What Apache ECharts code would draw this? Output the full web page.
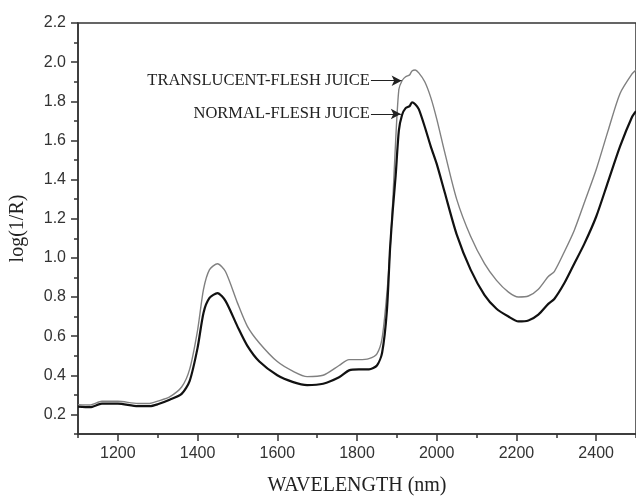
<!DOCTYPE html>
<html>
<head>
<meta charset="utf-8">
<script src="https://cdn.jsdelivr.net/npm/echarts@6/dist/echarts.min.js"></script>
<style>html,body{margin:0;padding:0;background:#fff}#c{width:636px;height:501px}</style>
</head>
<body>
<div id="c"></div>
<script>
const wavelengths = [1100,1130,1160,1200,1250,1280,1300,1330,1360,1380,1400,1415,1430,1450,1470,1500,1525,1555,1600,1640,1675,1715,1755,1780,1805,1830,1850,1863,1875,1883,1890,1897,1905,1913,1922,1932,1938,1946,1955,1970,1985,2000,2020,2050,2085,2120,2150,2180,2205,2230,2255,2280,2295,2320,2345,2370,2400,2430,2460,2490,2500];
const normalFlesh = [0.24,0.237,0.255,0.255,0.242,0.242,0.252,0.275,0.305,0.37,0.54,0.72,0.795,0.82,0.78,0.65,0.55,0.47,0.40,0.365,0.35,0.357,0.39,0.425,0.43,0.43,0.45,0.515,0.73,1.05,1.25,1.42,1.65,1.73,1.765,1.775,1.795,1.785,1.76,1.67,1.57,1.48,1.335,1.12,0.94,0.81,0.74,0.70,0.675,0.68,0.71,0.765,0.79,0.87,0.97,1.07,1.21,1.39,1.57,1.72,1.75];
const translucentFlesh = [0.25,0.248,0.267,0.267,0.256,0.256,0.268,0.29,0.34,0.43,0.63,0.84,0.94,0.97,0.93,0.77,0.65,0.565,0.47,0.42,0.393,0.40,0.45,0.48,0.48,0.485,0.51,0.59,0.82,1.04,1.30,1.60,1.86,1.905,1.925,1.935,1.955,1.96,1.945,1.90,1.82,1.71,1.54,1.30,1.11,0.97,0.885,0.825,0.80,0.805,0.84,0.905,0.93,1.03,1.14,1.28,1.45,1.65,1.84,1.94,1.96];
const xTickLabels = [1200,1400,1600,1800,2000,2200,2400];
const yTickLabels = [0.2,0.4,0.6,0.8,1.0,1.2,1.4,1.6,1.8,2.0,2.2];
const annotations = [
  {text:'TRANSLUCENT-FLESH JUICE', from:[1835,1.905], to:[1912,1.905]},
  {text:'NORMAL-FLESH JUICE', from:[1835,1.735], to:[1910,1.735]}
];

const chart = echarts.init(document.getElementById('c'), null, {renderer:'canvas'});
const axisColor = '#333';
const labelFont = {color:'#333', fontFamily:'Liberation Sans, Arial, sans-serif', fontSize:16};
const serif = 'Liberation Serif, Times New Roman, serif';
const pair = (ys) => wavelengths.map((w,i)=>[w, ys[i]]);

const option = {
  animation:false,
  grid:{left:76, right:-3, top:23, bottom:58, show:true, borderColor:axisColor, borderWidth:1.5, backgroundColor:'transparent'},
  xAxis:[
    {type:'value', min:1100, max:2500, position:'bottom',
     axisLine:{show:true, onZero:false, lineStyle:{color:axisColor, width:1.5}},
     axisTick:{show:true, length:7, customValues:xTickLabels, lineStyle:{color:axisColor, width:1.5}},
     axisLabel:{show:true, customValues:xTickLabels, margin:12, formatter:(v)=>String(v), ...labelFont},
     splitLine:{show:false},
     name:'WAVELENGTH (nm)', nameLocation:'middle', nameGap:42,
     nameTextStyle:{fontFamily:serif, fontSize:20, color:'#222'}},
    {type:'value', min:1100, max:2500, interval:100, position:'bottom',
     axisLine:{show:false}, axisTick:{show:true, length:4, lineStyle:{color:axisColor, width:1.5}},
     axisLabel:{show:false}, splitLine:{show:false}}
  ],
  yAxis:[
    {type:'value', min:0.1, max:2.2, position:'left',
     axisLine:{show:true, onZero:false, lineStyle:{color:axisColor, width:1.5}},
     axisTick:{show:true, length:7, customValues:yTickLabels, lineStyle:{color:axisColor, width:1.5}},
     axisLabel:{show:true, customValues:yTickLabels, margin:12, formatter:(v)=>v.toFixed(1), ...labelFont},
     splitLine:{show:false},
     name:'log(1/R)', nameLocation:'middle', nameGap:50, nameRotate:90,
     nameTextStyle:{fontFamily:serif, fontSize:20, color:'#222'}},
    {type:'value', min:0.1, max:2.2, interval:0.1, position:'left',
     axisLine:{show:false}, axisTick:{show:true, length:4, lineStyle:{color:axisColor, width:1.5}},
     axisLabel:{show:false}, splitLine:{show:false}}
  ],
  series:[
    {name:'TRANSLUCENT-FLESH JUICE', type:'line', data:pair(translucentFlesh), showSymbol:false, smooth:0.25,
     lineStyle:{color:'#808080', width:1.4}, z:2,
     markLine:{silent:true, symbol:['none','arrow'], symbolSize:[8,10], animation:false,
       lineStyle:{color:'#222', width:1, type:'solid'}, label:{show:false},
       data:[[{coord:annotations[0].from},{coord:annotations[0].to}]]}},
    {name:'NORMAL-FLESH JUICE', type:'line', data:pair(normalFlesh), showSymbol:false, smooth:0.25,
     lineStyle:{color:'#111', width:2.2}, z:3,
     markLine:{silent:true, symbol:['none','arrow'], symbolSize:[8,10], animation:false,
       lineStyle:{color:'#222', width:1, type:'solid'}, label:{show:false},
       data:[[{coord:annotations[1].from},{coord:annotations[1].to}]]}}
  ]
};
chart.setOption(option);

function placeTexts(){
  const els = annotations.map(a=>{
    const p = chart.convertToPixel({xAxisIndex:0, yAxisIndex:0}, a.from);
    return {type:'text', x:p[0]-1, y:p[1], style:{text:a.text, fill:'#222', font:'16.5px ' + serif, textAlign:'right', textVerticalAlign:'middle'}};
  });
  chart.setOption({graphic:els});
}
placeTexts();
</script>
</body>
</html>
